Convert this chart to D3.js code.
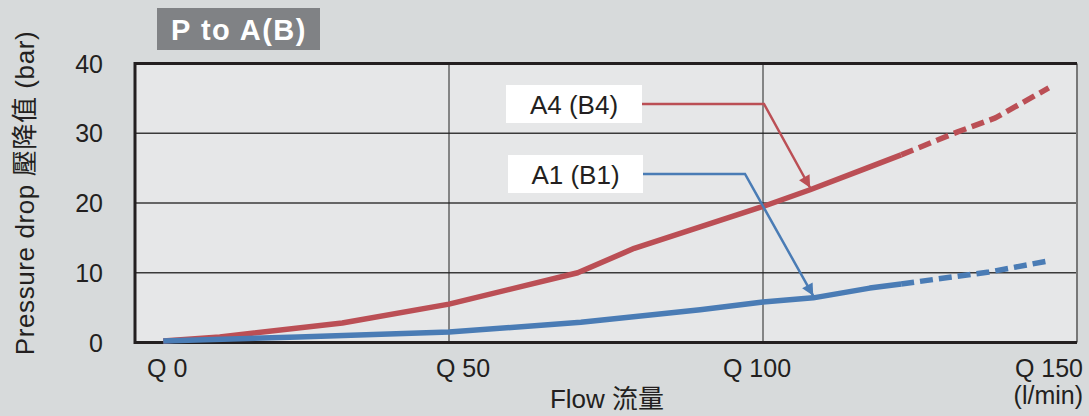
<!DOCTYPE html>
<html>
<head>
<meta charset="utf-8">
<script src="https://cdn.jsdelivr.net/npm/d3@7"></script>
<style>
  html, body { margin: 0; padding: 0; background: #d7dadb; }
  svg text { font-family: "Liberation Sans", Arial, "Noto Sans CJK TC", sans-serif; fill: #231f20; }
</style>
</head>
<body>
<div id="chart"></div>
<script>
// Flow (l/min) and pressure drop (bar), solid part then dashed extension
var flowA4 = [4.5, 13.5, 33, 50, 70.5, 79.5, 100, 107.5, 116.5, 122];
var presA4 = [0.2, 0.8, 2.8, 5.5, 10.0, 13.5, 19.5, 21.9, 25.0, 26.9];
var flowA4Ext = [122, 131, 137, 145.5];
var presA4Ext = [26.9, 30.2, 32.2, 36.5];

var flowA1 = [4.5, 26, 50, 71, 90, 100, 108, 117, 122];
var presA1 = [0.2, 0.8, 1.5, 2.9, 4.7, 5.8, 6.4, 7.8, 8.4];
var flowA1Ext = [122, 136, 145.5];
var presA1Ext = [8.4, 10.1, 11.7];

var xTicks = [0, 50, 100, 150];
var xTickLabels = ["Q 0", "Q 50", "Q 100", "Q 150"];
var yTicks = [0, 10, 20, 30, 40];
var seriesNames = ["A4 (B4)", "A1 (B1)"];

var W = 1089, H = 416;
// plot box (window.top is read-only, so not named top)
var pLeft = 135, pRight = 1077, pTop = 63.5, pBottom = 342.5;
var red = "#bb4f55", blue = "#4a7cb5";

var svg = d3.select("#chart").append("svg")
  .attr("width", W).attr("height", H);

svg.append("defs").selectAll("marker")
  .data([["arrRed", red], ["arrBlue", blue]])
  .enter().append("marker")
  .attr("id", function(d) { return d[0]; })
  .attr("viewBox", "0 0 10 10")
  .attr("refX", 10).attr("refY", 5)
  .attr("markerUnits", "userSpaceOnUse")
  .attr("markerWidth", 15).attr("markerHeight", 12)
  .attr("orient", "auto")
  .append("path").attr("d", "M0,0L10,5L0,10Z")
  .attr("fill", function(d) { return d[1]; });

var x = d3.scaleLinear().domain([0, 150]).range([pLeft, pRight]);
var y = d3.scaleLinear().domain([0, 40]).range([pBottom, pTop]);

// plot background
svg.append("rect")
  .attr("x", pLeft).attr("y", pTop)
  .attr("width", pRight - pLeft).attr("height", pBottom - pTop)
  .attr("fill", "#e6e7e8");

// grid
svg.append("g").selectAll("line")
  .data(yTicks.filter(function(d) { return d > 0 && d < 40; }))
  .enter().append("line")
  .attr("x1", pLeft).attr("x2", pRight)
  .attr("y1", function(d) { return y(d); }).attr("y2", function(d) { return y(d); })
  .attr("stroke", "#3a3a3a").attr("stroke-width", 1.5);

svg.append("g").selectAll("line")
  .data(xTicks.filter(function(d) { return d > 0 && d < 150; }))
  .enter().append("line")
  .attr("y1", pTop).attr("y2", pBottom)
  .attr("x1", function(d) { return x(d); }).attr("x2", function(d) { return x(d); })
  .attr("stroke", "#222").attr("stroke-width", 1);

// frame
svg.append("line").attr("x1", pRight).attr("x2", pRight).attr("y1", pTop).attr("y2", pBottom)
  .attr("stroke", "#777").attr("stroke-width", 2);
svg.append("path")
  .attr("d", "M" + pRight + "," + pTop + "H" + pLeft + "V" + pBottom + "H" + pRight)
  .attr("fill", "none").attr("stroke", "#231f20").attr("stroke-width", 3);

// y tick labels
svg.append("g").selectAll("text")
  .data(yTicks).enter().append("text")
  .attr("x", 103).attr("y", function(d) { return y(d); })
  .attr("dy", "0.36em")
  .attr("text-anchor", "end")
  .attr("font-size", 25)
  .text(function(d) { return d; });

// x tick labels
var xOff = [12, 14, -6, 6];
var xAnchor = ["start", "middle", "middle", "end"];
svg.append("g").selectAll("text")
  .data(xTicks).enter().append("text")
  .attr("x", function(d, i) { return x(d) + xOff[i]; })
  .attr("y", 377)
  .attr("text-anchor", function(d, i) { return xAnchor[i]; })
  .attr("font-size", 25)
  .text(function(d, i) { return xTickLabels[i]; });

// axis titles
svg.append("text")
  .attr("transform", "translate(34,193) rotate(-90)")
  .attr("text-anchor", "middle")
  .attr("font-size", 26)
  .attr("letter-spacing", 0.6)
  .text("Pressure drop 壓降值 (bar)");

svg.append("text")
  .attr("x", 607).attr("y", 408)
  .attr("text-anchor", "middle")
  .attr("font-size", 26)
  .text("Flow 流量");

svg.append("text")
  .attr("x", 1083).attr("y", 404)
  .attr("text-anchor", "end")
  .attr("font-size", 25)
  .text("(l/min)");

// lines
var line = d3.line()
  .x(function(d) { return x(d[0]); })
  .y(function(d) { return y(d[1]); });

function pairs(a, b) { return a.map(function(v, i) { return [v, b[i]]; }); }

var lines = [
  { pts: pairs(flowA4, presA4), color: red, dash: null },
  { pts: pairs(flowA4Ext, presA4Ext), color: red, dash: "13,6" },
  { pts: pairs(flowA1, presA1), color: blue, dash: null },
  { pts: pairs(flowA1Ext, presA1Ext), color: blue, dash: "13,6" }
];

svg.append("g").selectAll("path")
  .data(lines).enter().append("path")
  .attr("d", function(d) { return line(d.pts); })
  .attr("fill", "none")
  .attr("stroke", function(d) { return d.color; })
  .attr("stroke-width", 5.5)
  .attr("stroke-linejoin", "round")
  .attr("stroke-dasharray", function(d) { return d.dash; });

// title box
svg.append("rect")
  .attr("x", 157).attr("y", 8).attr("width", 163).attr("height", 42)
  .attr("fill", "#808285");
svg.append("text")
  .attr("x", 239).attr("y", 40)
  .attr("text-anchor", "middle")
  .attr("font-size", 29).attr("font-weight", "bold")
  .attr("letter-spacing", 1.5)
  .style("fill", "#fff")
  .text("P to A(B)");

// labels with leaders
var labels = [
  { name: seriesNames[0], bx: 506, by: 85, bw: 136, corner: 764, tip: [flowA4[7], presA4[7]], color: red, marker: "arrRed" },
  { name: seriesNames[1], bx: 508, by: 155, bw: 135, corner: 745, tip: [flowA1[6], presA1[6]], color: blue, marker: "arrBlue" }
];

labels.forEach(function(l) {
  var cy = l.by + 19;
  svg.append("path")
    .attr("d", "M" + (l.bx + l.bw) + "," + cy + "H" + l.corner + "L" + x(l.tip[0]) + "," + (y(l.tip[1]) - 2))
    .attr("fill", "none")
    .attr("stroke", l.color)
    .attr("stroke-width", 2.5)
    .attr("marker-end", "url(#" + l.marker + ")");
  svg.append("rect")
    .attr("x", l.bx).attr("y", l.by).attr("width", l.bw).attr("height", 38)
    .attr("fill", "#fff");
  svg.append("text")
    .attr("x", l.bx + l.bw / 2).attr("y", l.by + 29)
    .attr("text-anchor", "middle")
    .attr("font-size", 26)
    .text(l.name);
});
</script>
</body>
</html>
